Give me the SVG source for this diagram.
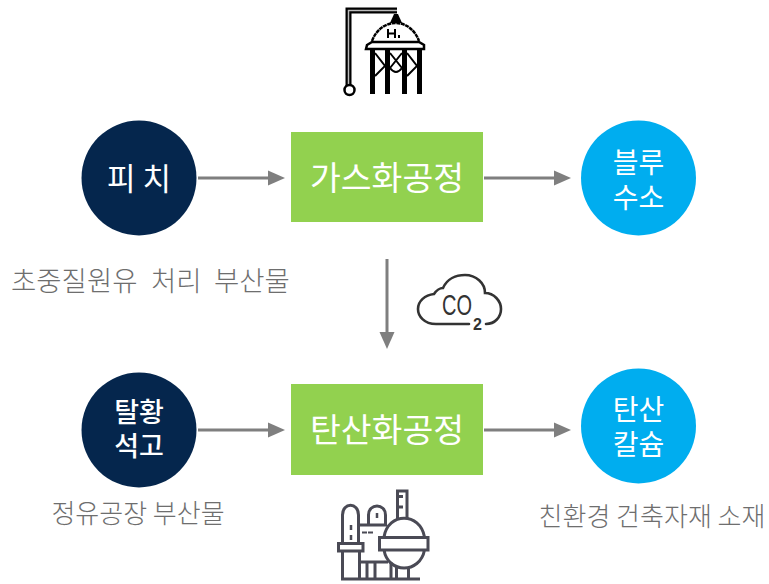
<svg xmlns="http://www.w3.org/2000/svg" width="769" height="584" viewBox="0 0 769 584">
<style>
text{font-family:"Noto Sans CJK KR","Noto Sans",sans-serif;text-anchor:middle}
.w{fill:#fff;font-size:28px;font-weight:400}
.b{fill:#fff;font-size:27px;font-weight:500}
.box{fill:#fff;font-size:33.500px;font-weight:400}
.g{fill:#6e6e6e;font-size:26px;font-weight:300}
.navy{fill:#05264d}.blue{fill:#00adef}.green{fill:#92d14f}
.cn{stroke:#7f7f7f;stroke-width:3;fill:none}
.ah{fill:#7f7f7f}
.k{fill:none;stroke:#000;stroke-width:2}
.p{fill:none;stroke:#4a4a55;stroke-width:3}
.c{fill:none;stroke:#333;stroke-width:2.600;stroke-linecap:round}
.lat{font-family:"Liberation Sans",sans-serif;fill:#333}
</style>
<g id="connectors">
<path class="cn" d="M198 178H270"/><path class="ah" d="M268 170.500L285 178L268 185.500Z"/>
<path class="cn" d="M484 178H556"/><path class="ah" d="M554 170.500L571 178L554 185.500Z"/>
<path class="cn" d="M387 259V334"/><path class="ah" d="M379.500 332L387 349L394.500 332Z"/>
<path class="cn" d="M198 430H270"/><path class="ah" d="M268 422.500L285 430L268 437.500Z"/>
<path class="cn" d="M484 430H556"/><path class="ah" d="M554 422.500L571 430L554 437.500Z"/>
</g>
<g id="pitch"><circle class="navy" cx="139" cy="178" r="57.500"/><text class="w" x="139" y="190" style="font-size:31px">피 치</text></g>
<g id="gasification"><rect class="green" x="291" y="132" width="192" height="90"/><text class="box" x="387" y="190">가스화공정</text></g>
<g id="blue-hydrogen"><circle class="blue" cx="638.500" cy="178" r="57.500"/><text class="w" x="638.500" y="173">블루</text><text class="w" x="638.500" y="208">수소</text></g>
<g id="pitch-label"><text class="g" y="291" style="font-size:27.500px;text-anchor:start"><tspan x="11">초중질원유</tspan><tspan x="151">처리</tspan><tspan x="214">부산물</tspan></text></g>
<g id="hydrogen-icon">
<path d="M348.500 91V10.500H397" fill="none" stroke="#000" stroke-width="6"/>
<path d="M348.500 91V10.500H397" fill="none" stroke="#bbb" stroke-width="1.500"/>
<path d="M394 14H398L402 23H390Z" fill="#000"/>
<circle cx="349.500" cy="90" r="5" fill="#fff" stroke="#000" stroke-width="2.500"/>
<path d="M372 41C376 30 385 23 396 23C406 23 415 30 419 41" fill="none" stroke="#000" stroke-width="2.500" stroke-dasharray="4 .6"/>
<path d="M367 45L372 42H419L424 45L424 49H366Z" fill="#fff" stroke="#000" stroke-width="2.500"/>
<path d="M370 50h5v44h-5zM385 50h5v44h-5zM402 50h5v44h-5zM417 50h5v44h-5z" fill="#000"/>
<path class="k" d="M375 53L385 66L375 76M390 53L402 68M402 53L390 68M407 53L417 66L407 76M390 68Q396 76 402 68"/>
<path d="M388 29v9M395 29v9M388 33.500h7M399 35v3" fill="none" stroke="#000" stroke-width="2"/>
</g>
<g id="co2-icon">
<path class="c" d="M469 324H436C424 324 418 316 418 309C418 301 425 295 434 294C436 291 440 288 443 288C447 279 456 275 465 275C476 275 485 283 485 293C494 293 501 301 501 309C501 317 495 324 486 324"/>
<text class="lat" x="457" y="315" style="font-size:29px" textLength="30" lengthAdjust="spacingAndGlyphs">CO</text>
<text class="lat" x="477.500" y="330" style="font-size:16px;font-weight:700">2</text>
</g>
<g id="gypsum"><circle class="navy" cx="139" cy="430" r="57.500"/><text class="b" x="139" y="422">탈황</text><text class="b" x="139" y="456">석고</text></g>
<g id="carbonation"><rect class="green" x="291" y="384" width="192" height="91"/><text class="box" x="387" y="442">탄산화공정</text></g>
<g id="calcium-carbonate"><circle class="blue" cx="638.500" cy="426" r="57.500"/><text class="w" x="638.500" y="420">탄산</text><text class="w" x="638.500" y="455">칼슘</text></g>
<g id="gypsum-label"><text class="g" x="138" y="523">정유공장 부산물</text></g>
<g id="calcium-label"><text class="g" x="652" y="526">친환경 건축자재 소재</text></g>
<g id="plant-icon">
<path class="p" d="M342.500 543V515C342.500 502 358.500 502 358.500 515V543M342.500 551V579M359.500 551V579M338.500 543.500H363V551H338.500ZM341 579H420"/>
<path class="p" d="M359 525H387M368.500 525V515C368.500 503 385.500 503 385.500 515V525M359 562H388M367 562V579M375 562V579M391 562V579"/>
<path class="p" d="M397.500 519V491H407V519M397.500 496.500H403M397.500 507H403"/>
<path class="p" d="M384 537C388 512 420 512 424.500 537M384 550C388 574 420 574 424.500 550M379.500 537.500H428V550H379.500Z"/>
<path class="p" d="M396.500 567V579M408.500 567V579"/>
<path d="M351 525v5M351 535v5M377 513v5" stroke="#4a4a55" stroke-width="2.500"/>
<path d="M362 532.500h5M368 532.500h5" stroke="#4a4a55" stroke-width="2"/>
</g>
</svg>
